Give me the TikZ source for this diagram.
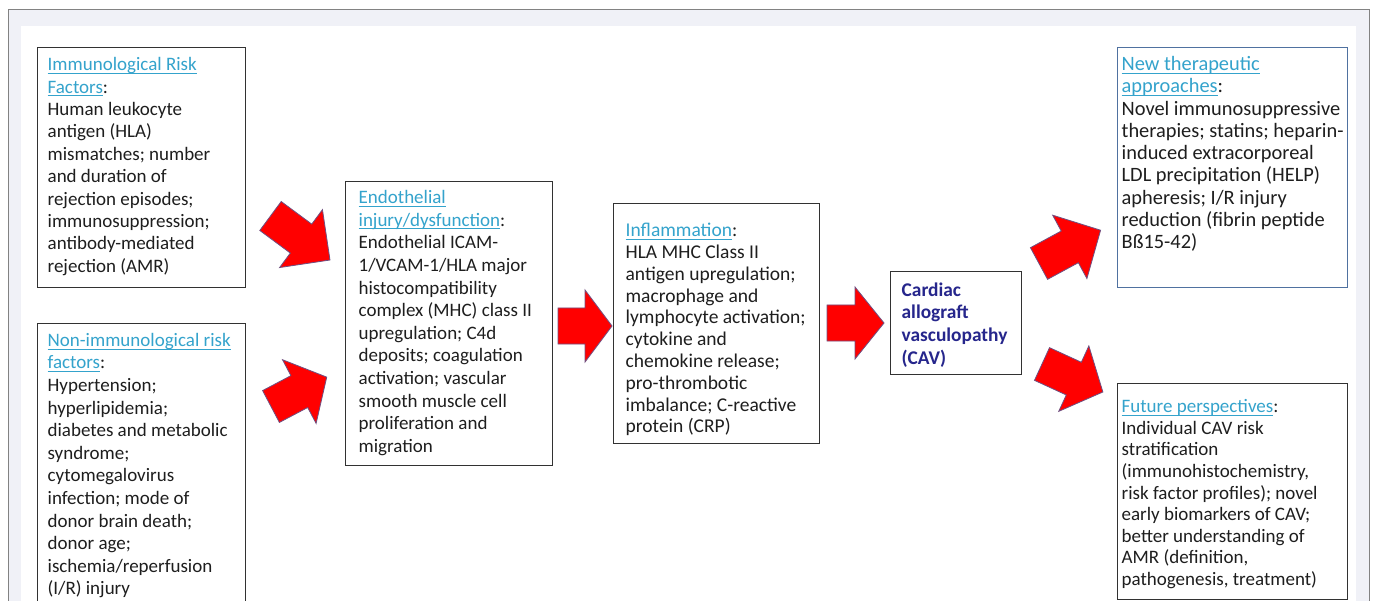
\documentclass[tikz,border=0pt]{standalone}
\usepackage{fontspec}
\setmainfont{Carlito}

\definecolor{linkblue}{RGB}{52,163,204}
\definecolor{txtblack}{RGB}{30,30,30}
\definecolor{cavnavy}{RGB}{38,38,140}
\definecolor{boxgray}{RGB}{50,50,50}
\definecolor{boxblue}{RGB}{79,113,160}
\definecolor{framegray}{RGB}{130,130,130}
\definecolor{bandgray}{RGB}{240,241,247}
\definecolor{arrred}{RGB}{255,0,0}
\definecolor{arredge}{RGB}{110,80,130}

% underlined heading
\newcommand{\hd}[1]{\leavevmode{\color{linkblue}\setbox0\hbox{#1}\rlap{\rule[-3.2pt]{\wd0}{1pt}}\box0}}
% width, height, left pad, top pad, text
\newcommand{\boxtext}[5]{\parbox[c][#2][t]{#1}{\raggedright\leftskip=#3\relax
  \rightskip=-40pt plus 1fil\relax\vspace*{#4}\strut#5}}

\tikzset{
  box/.style={draw=boxgray, line width=1.3pt, inner sep=0pt, anchor=north west,
    text=txtblack, font=\fontsize{19}{22.4}\selectfont},
  blk/.style={fill=arrred, draw=arredge, line width=0.8pt, line join=miter},
  % length/head length
  pics/blkarrow/.style args={#1/#2}{code={
    \draw[blk] (0,-18) -- (#1-#2,-18) -- (#1-#2,-36) -- (#1,0)
      -- (#1-#2,36) -- (#1-#2,18) -- (0,18) -- cycle;}},
}

\begin{document}
\begin{tikzpicture}[x=1pt,y=-1pt]
\useasboundingbox (0,0) rectangle (1375,601);
% frame and page
\draw[draw=framegray, fill=bandgray, line width=1pt] (8,10) rectangle (1369,640);
\fill[white] (21,26) rectangle (1356,640);

% risk factors
\node[box] (imm) at (37,47) {\boxtext{208pt}{240pt}{10pt}{7.3pt}{%
  \hd{Immunological Risk}\\\hd{Factors}:\\Human leukocyte\\antigen (HLA)\\
  mismatches; number\\and duration of\\rejection episodes;\\immunosuppression;\\
  antibody-mediated\\rejection (AMR)}};
\node[box, font=\fontsize{19}{22.6}\selectfont] (nonimm) at (37,323) {\boxtext{208pt}{300pt}{10pt}{6.9pt}{%
  \hd{Non-immunological risk}\\\hd{factors}:\\Hypertension;\\hyperlipidemia;\\
  diabetes and metabolic\\syndrome;\\cytomegalovirus\\infection; mode of\\
  donor brain death;\\donor age;\\ischemia/reperfusion\\(I/R) injury}};

% mechanism chain
\node[box, font=\fontsize{19}{22.6}\selectfont] (endo) at (345,181) {\boxtext{207pt}{284pt}{13pt}{6.2pt}{%
  \hd{Endothelial}\\\hd{injury/dysfunction}:\\Endothelial ICAM-\\1/VCAM-1/HLA major\\
  histocompatibility\\complex (MHC) class II\\upregulation; C4d\\deposits; coagulation\\
  activation; vascular\\smooth muscle cell\\proliferation and\\migration}};
\node[box, font=\fontsize{19.5}{21.8}\selectfont] (infl) at (613,203) {\boxtext{206pt}{240pt}{12pt}{17.8pt}{%
  \hd{Inflammation}:\\HLA MHC Class II\\antigen upregulation;\\macrophage and\\
  lymphocyte activation;\\cytokine and\\chemokine release;\\pro-thrombotic\\
  imbalance; C-reactive\\protein (CRP)}};
\node[box, text=cavnavy, font=\fontsize{19.4}{22.8}\selectfont\bfseries] (cav) at (890,271) {\boxtext{131pt}{103pt}{11pt}{8.5pt}{%
  Cardiac\\allograft\\vasculopathy\\(CAV)}};

% outlook
\node[box, draw=boxblue, font=\fontsize{20.4}{22.25}\selectfont] (newther) at (1117,47) {\boxtext{230pt}{240pt}{4pt}{7.4pt}{%
  \hd{New therapeutic}\\\hd{approaches}:\\Novel immunosuppressive\\therapies; statins; heparin-\\
  induced extracorporeal\\LDL precipitation (HELP)\\apheresis; I/R injury\\
  reduction (fibrin peptide\\Bß15-42)}};
\node[box, font=\fontsize{19}{21.6}\selectfont] (future) at (1117,383) {\boxtext{230pt}{216pt}{4pt}{13.9pt}{%
  \hd{Future perspectives}:\\Individual CAV risk\\stratification\\(immunohistochemistry,\\
  risk factor profiles); novel\\early biomarkers of CAV;\\better understanding of\\
  AMR (definition,\\pathogenesis, treatment)}};

% block arrows
\pic[rotate=-36.5] (a1) at (270.5,216) {blkarrow=74/36};
\pic[rotate=27.8] (a2) at (271,406.5) {blkarrow=63/31};
\pic (a3) at (558,326) {blkarrow=54/27};
\pic (a4) at (827,323) {blkarrow=57/29};
\pic[rotate=28.4] (a5) at (1039,263.5) {blkarrow=70/35};
\pic[rotate=-24.7] (a6) at (1042,364) {blkarrow=67/32};
\end{tikzpicture}
\end{document}
